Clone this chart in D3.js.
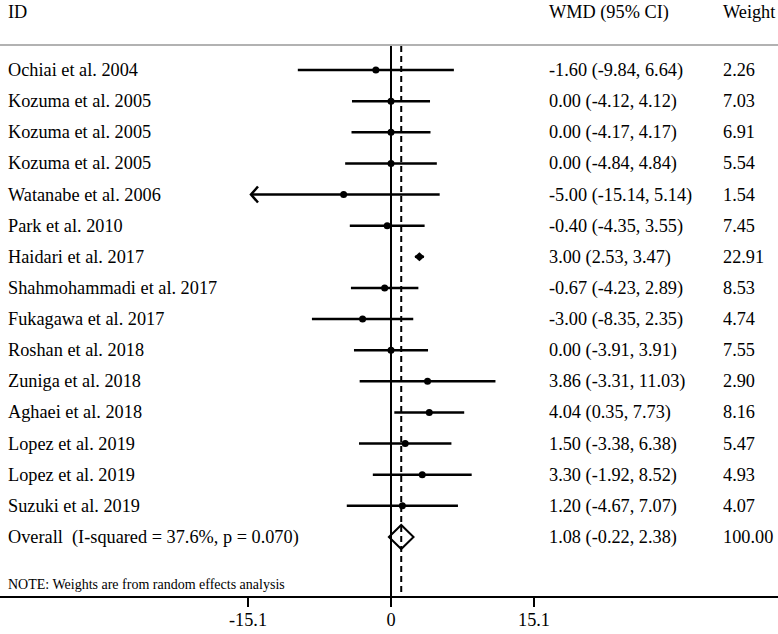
<!DOCTYPE html>
<html>
<head>
<meta charset="utf-8">
<script src="https://cdn.jsdelivr.net/npm/d3@7"></script>
<style>
body { margin: 0; background: #fff; }
text { font-family: "Liberation Serif", "Times New Roman", serif; fill: #000; }
</style>
</head>
<body>
<div id="chart"></div>
<script>
var studies = ["Ochiai et al. 2004", "Kozuma et al. 2005", "Kozuma et al. 2005", "Kozuma et al. 2005",
	"Watanabe et al. 2006", "Park et al. 2010", "Haidari et al. 2017", "Shahmohammadi et al. 2017",
	"Fukagawa et al. 2017", "Roshan et al. 2018", "Zuniga et al. 2018", "Aghaei et al. 2018",
	"Lopez et al. 2019", "Lopez et al. 2019", "Suzuki et al. 2019"]
var wmd   = [-1.60, 0.00, 0.00, 0.00, -5.00, -0.40, 3.00, -0.67, -3.00, 0.00, 3.86, 4.04, 1.50, 3.30, 1.20]
var lower = [-9.84, -4.12, -4.17, -4.84, -15.14, -4.35, 2.53, -4.23, -8.35, -3.91, -3.31, 0.35, -3.38, -1.92, -4.67]
var upper = [6.64, 4.12, 4.17, 4.84, 5.14, 3.55, 3.47, 2.89, 2.35, 3.91, 11.03, 7.73, 6.38, 8.52, 7.07]
var weights = ["2.26", "7.03", "6.91", "5.54", "1.54", "7.45", "22.91", "8.53", "4.74", "7.55", "2.90", "8.16", "5.47", "4.93", "4.07"]

var overall = {label: "Overall", stats: "(I-squared = 37.6%, p = 0.070)", est: 1.08, lo: -0.22, hi: 2.38, weight: "100.00"}
var ticks = [-15.1, 0, 15.1]

var W = 778, H = 634
var svg = d3.select("#chart").append("svg").attr("width", W).attr("height", H)

var x = d3.scaleLinear().domain([-15.1, 15.1]).range([248, 534])
var y = d3.scaleLinear().domain([0, 15]).range([70, 537])

var fs = 18.3
function fmt(v) { return v.toFixed(2) }

var data = studies.map(function(s, i) {
	return {name: s, i: i, est: wmd[i], lo: lower[i], hi: upper[i], w: weights[i]}
})

// header
svg.append("text").attr("x", 8).attr("y", 18).attr("font-size", fs).text("ID")
svg.append("text").attr("x", 549).attr("y", 18).attr("font-size", fs).text("WMD (95% CI)")
svg.append("text").attr("x", 723).attr("y", 18).attr("font-size", fs).text("Weight")

svg.append("line").attr("x1", 0).attr("x2", W).attr("y1", 45).attr("y2", 45)
	.style("stroke", "#999").style("stroke-width", 1.5)

// overall diamond (drawn first, reference lines pass through it)
var oy = y(15)
svg.append("path")
	.attr("d", "M" + x(overall.lo) + "," + oy + "L" + x(overall.est) + "," + (oy - 12) +
		"L" + x(overall.hi) + "," + oy + "L" + x(overall.est) + "," + (oy + 12) + "Z")
	.style("fill", "none").style("stroke", "#000").style("stroke-width", 2)

// reference lines
svg.append("line").attr("x1", x(0)).attr("x2", x(0)).attr("y1", 46).attr("y2", 597)
	.style("stroke", "#000").style("stroke-width", 2)
svg.append("line").attr("x1", x(overall.est)).attr("x2", x(overall.est)).attr("y1", 46).attr("y2", 597)
	.style("stroke", "#000").style("stroke-width", 2).style("stroke-dasharray", "6,4")

var rows = svg.selectAll(".study").data(data).enter().append("g").attr("class", "study")

rows.append("line")
	.attr("x1", function(d) { return d.lo < -15.1 ? x(-15.1) + 3 : x(d.lo) })
	.attr("x2", function(d) { return x(Math.min(d.hi, 15.1)) })
	.attr("y1", function(d) { return y(d.i) })
	.attr("y2", function(d) { return y(d.i) })
	.style("stroke", "#000").style("stroke-width", 2.5)

// arrow where the CI runs off the axis
rows.filter(function(d) { return d.lo < -15.1 }).append("path")
	.attr("d", function(d) {
		var ax = x(-15.1) + 3, ay = y(d.i)
		return "M" + (ax + 7) + "," + (ay - 8) + "L" + ax + "," + ay + "L" + (ax + 7) + "," + (ay + 8)
	})
	.style("fill", "none").style("stroke", "#000").style("stroke-width", 2.5)

rows.filter(function(d) { return d.i != 6 }).append("circle")
	.attr("cx", function(d) { return x(d.est) })
	.attr("cy", function(d) { return y(d.i) })
	.attr("r", 3.5)
	.style("fill", "#000")
rows.filter(function(d) { return d.i == 6 }).append("path")
	.attr("transform", function(d) { return "translate(" + x(d.est) + "," + y(d.i) + ")" })
	.attr("d", "M0,-4.5L5,0L0,4.5L-5,0Z")
	.style("fill", "#000")

rows.append("text").attr("x", 8).attr("y", function(d) { return y(d.i) + 6 })
	.attr("font-size", fs).text(function(d) { return d.name })
rows.append("text").attr("x", 549).attr("y", function(d) { return y(d.i) + 6 })
	.attr("font-size", fs).text(function(d) {
		return fmt(d.est) + " (" + fmt(d.lo) + ", " + fmt(d.hi) + ")"
	})
rows.append("text").attr("x", 723).attr("y", function(d) { return y(d.i) + 6 })
	.attr("font-size", fs).text(function(d) { return d.w })

// overall row text
svg.append("text").attr("x", 8).attr("y", oy + 6).attr("font-size", fs).text(overall.label)
svg.append("text").attr("x", 72).attr("y", oy + 6).attr("font-size", fs).text(overall.stats)
svg.append("text").attr("x", 549).attr("y", oy + 6).attr("font-size", fs)
	.text(fmt(overall.est) + " (" + fmt(overall.lo) + ", " + fmt(overall.hi) + ")")
svg.append("text").attr("x", 723).attr("y", oy + 6).attr("font-size", fs).text(overall.weight)

svg.append("text").attr("x", 8).attr("y", 589).attr("font-size", 14)
	.text("NOTE: Weights are from random effects analysis")

// axis
svg.append("line").attr("x1", 0).attr("x2", W).attr("y1", 597).attr("y2", 597)
	.style("stroke", "#000").style("stroke-width", 2)
var axis = svg.append("g").selectAll(".tick").data(ticks).enter().append("g")
	.attr("transform", function(d) { return "translate(" + x(d) + ",597)" })
axis.append("line").attr("y1", 0).attr("y2", 10).style("stroke", "#000").style("stroke-width", 2)
axis.append("text").attr("y", 29).attr("text-anchor", "middle").attr("font-size", fs)
	.text(function(d) { return d })
</script>
</body>
</html>
